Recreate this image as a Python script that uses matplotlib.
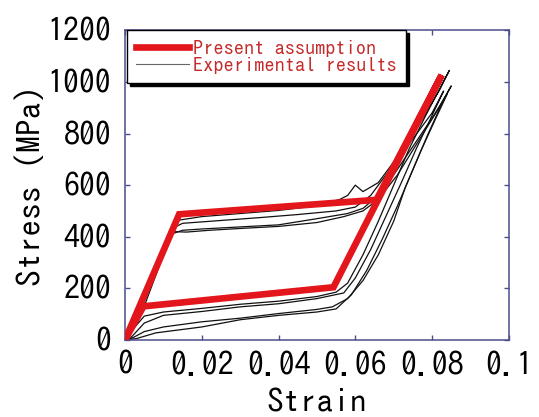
import matplotlib
matplotlib.use("Agg")
import matplotlib.pyplot as plt

# Present assumption (piecewise linear loop)
model_strain = [0, 0.0141, 0.0655, 0.0825, 0.0543, 0.0048, 0]
model_stress = [0, 487, 543, 1027, 204, 130, 0]

exp1_strain = [0, 0.003, 0.007, 0.011, 0.013, 0.020, 0.030, 0.040, 0.050, 0.056, 0.058, 0.060, 0.062, 0.066, 0.070,
               0.074, 0.078, 0.082, 0.0845, 0.082, 0.078, 0.074, 0.070, 0.066, 0.062, 0.058, 0.055, 0.050,
               0.040, 0.030, 0.020, 0.010, 0.005, 0.002, 0]
exp1_stress = [0, 100, 250, 400, 462, 478, 490, 502, 520, 545, 560, 600, 575, 610, 690,
               770, 870, 970, 1045, 975, 860, 740, 600, 460, 330, 220, 185, 168,
               150, 138, 122, 108, 92, 40, 0]

exp2_strain = [0, 0.004, 0.008, 0.012, 0.015, 0.025, 0.035, 0.045, 0.055, 0.060, 0.064, 0.068, 0.072, 0.076,
               0.080, 0.083, 0.080, 0.076, 0.072, 0.068, 0.064, 0.060, 0.057, 0.050, 0.040, 0.030, 0.020,
               0.010, 0.005, 0.001]
exp2_stress = [0, 120, 280, 430, 452, 463, 474, 486, 500, 515, 560, 640, 720, 800,
               880, 965, 870, 745, 610, 480, 350, 240, 182, 160, 140, 128, 110,
               95, 65, 0]

exp3_strain = [0, 0.004, 0.008, 0.012, 0.015, 0.020, 0.030, 0.040, 0.050, 0.058, 0.062, 0.066, 0.070, 0.075,
               0.080, 0.084, 0.081, 0.077, 0.073, 0.070, 0.066, 0.062, 0.058, 0.054, 0.050, 0.040, 0.030,
               0.020, 0.010, 0.005, 0.002, 0]
exp3_stress = [0, 110, 260, 410, 425, 430, 438, 446, 470, 490, 510, 560, 640, 750,
               860, 955, 860, 730, 590, 460, 330, 230, 160, 128, 118, 102, 84,
               70, 50, 32, 8, 0]

exp4_strain = [0, 0.005, 0.009, 0.012, 0.016, 0.022, 0.030, 0.040, 0.050, 0.057, 0.062, 0.066, 0.071, 0.076,
               0.081, 0.085, 0.083, 0.079, 0.075, 0.071, 0.067, 0.063, 0.059, 0.055, 0.050, 0.040, 0.030,
               0.020, 0.008, 0.003, 0]
exp4_stress = [0, 130, 290, 420, 418, 425, 432, 440, 455, 478, 500, 545, 640, 760,
               880, 985, 930, 800, 660, 520, 390, 270, 175, 120, 108, 95, 78,
               50, 27, 5, 0]

exp_curves = [(exp1_strain, exp1_stress), (exp2_strain, exp2_stress),
              (exp3_strain, exp3_stress), (exp4_strain, exp4_stress)]

spine_col = "#4d4d8c"
red = "#e3161b"
plt.rcParams["font.family"] = ["IPAGothic", "DejaVu Sans"]

fig = plt.figure(figsize=(5.39, 4.17), dpi=100)
ax = fig.add_axes([0.232, 0.185, 0.712, 0.742])

for i, (xs, ys) in enumerate(exp_curves):
    ax.plot(xs, ys, color="#111111", lw=0.9, zorder=2,
            label="Experimental results" if i == 0 else None)
ax.plot(model_strain, model_stress, color=red, lw=4.8, solid_joinstyle="miter",
        zorder=3, label="Present assumption")

ax.set_xlim(0, 0.1)
ax.set_ylim(0, 1200)
ax.set_xticks([0, 0.02, 0.04, 0.06, 0.08, 0.1])
ax.set_xticklabels(["0", "0.02", "0.04", "0.06", "0.08", "0.1"])
ax.set_yticks([0, 200, 400, 600, 800, 1000, 1200])

for s in ax.spines.values():
    s.set_color(spine_col)
    s.set_linewidth(1.1)
ax.tick_params(direction="in", length=3.5, width=1, color=spine_col,
               top=True, right=True, labelsize=23)
ax.tick_params(axis="y", pad=10)
ax.tick_params(axis="x", pad=8)

ax.set_xlabel("Strain", fontsize=24, labelpad=7)
ax.set_ylabel("Stress (MPa)", fontsize=24, labelpad=2)

handles, labels = ax.get_legend_handles_labels()
order = [1, 0]
leg = ax.legend([handles[k] for k in order], [labels[k] for k in order],
                loc="upper left", bbox_to_anchor=(0.005, 1.0), borderaxespad=0,
                fontsize=14.7, handlelength=2.6, handletextpad=0.2,
                labelspacing=0.0, borderpad=0.45, fancybox=False,
                shadow={"color": "black", "alpha": 1}, framealpha=1)
leg.get_frame().set_edgecolor("black")
leg.get_frame().set_linewidth(1.0)
for t in leg.get_texts():
    t.set_color("#c42a2a")
leg.get_lines()[1].set_color("#666666")
leg.get_lines()[1].set_linewidth(0.8)

fig.savefig("out.png", dpi=100)
